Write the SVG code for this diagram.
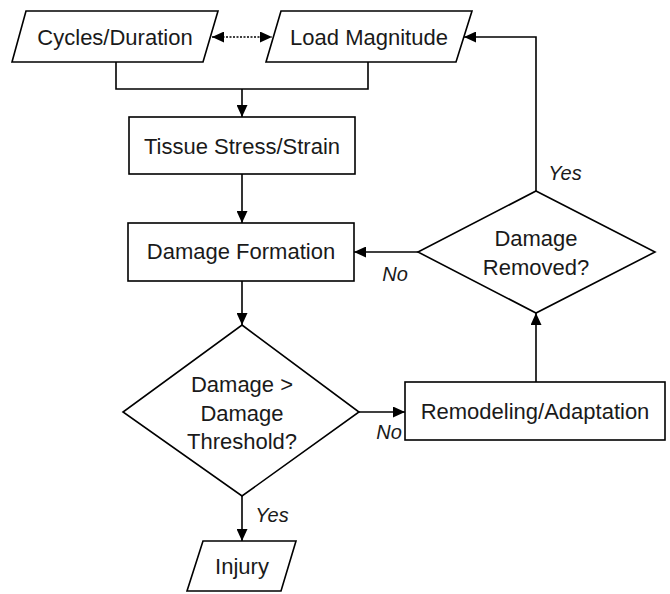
<svg xmlns="http://www.w3.org/2000/svg" width="670" height="594" viewBox="0 0 670 594">
  <defs>
    <marker id="arrow" viewBox="0 0 12 11" refX="12" refY="5.5" markerWidth="12" markerHeight="11" markerUnits="userSpaceOnUse" orient="auto-start-reverse">
      <path d="M0,0 L12,5.5 L0,11 Z" fill="#000"/>
    </marker>
  </defs>
  <style>
    .shape { fill: #fff; stroke: #000; stroke-width: 1.6; }
    .label { font-family: "Liberation Sans", Arial, sans-serif; font-size: 22px; fill: #1a1a1a; text-anchor: middle; dominant-baseline: central; }
    .answer { font-family: "Liberation Sans", Arial, sans-serif; font-size: 20px; font-style: italic; fill: #1a1a1a; text-anchor: middle; dominant-baseline: central; }
    .link { fill: none; stroke: #000; stroke-width: 1.6; }
    .dotted { stroke-dasharray: 2 1.5; stroke-width: 1.4; }
  </style>
  <rect width="670" height="594" fill="#fff"/>

  <!-- connectors -->
  <g id="connectors">
    <path class="link dotted" d="M212,37 H272" marker-start="url(#arrow)" marker-end="url(#arrow)"/>
    <path class="link" d="M116,62 V89 H368 V62"/>
    <path class="link" d="M242,89 V117" marker-end="url(#arrow)"/>
    <path class="link" d="M242,174 V223" marker-end="url(#arrow)"/>
    <path class="link" d="M242,281 V325" marker-end="url(#arrow)"/>
    <path class="link" d="M359,412 H405" marker-end="url(#arrow)"/>
    <path class="link" d="M536,382 V313" marker-end="url(#arrow)"/>
    <path class="link" d="M418,252 H354" marker-end="url(#arrow)"/>
    <path class="link" d="M536,191 V37 H464" marker-end="url(#arrow)"/>
    <path class="link" d="M242,496 V541" marker-end="url(#arrow)"/>
    <text class="answer" x="565" y="173">Yes</text>
    <text class="answer" x="395" y="274">No</text>
    <text class="answer" x="389" y="432">No</text>
    <text class="answer" x="272" y="515">Yes</text>
  </g>

  <g id="cycles">
    <polygon class="shape" points="26,11 218,11 203,62 12,62"/>
    <text class="label" x="115" y="37">Cycles/Duration</text>
  </g>

  <g id="load">
    <polygon class="shape" points="281,11 472,11 456,62 266,62"/>
    <text class="label" x="369" y="37">Load Magnitude</text>
  </g>

  <g id="stress">
    <rect class="shape" x="129" y="117" width="226" height="57"/>
    <text class="label" x="242" y="146">Tissue Stress/Strain</text>
  </g>

  <g id="damage">
    <rect class="shape" x="128" y="223" width="226" height="58"/>
    <text class="label" x="241" y="251">Damage Formation</text>
  </g>

  <g id="removed">
    <polygon class="shape" points="536,191 655,252 536,313 418,252"/>
    <text class="label" x="536" y="238">Damage</text>
    <text class="label" x="536" y="267">Removed?</text>
  </g>

  <g id="threshold">
    <polygon class="shape" points="242,325 359,412 242,496 123,412"/>
    <text class="label" x="242" y="384">Damage &gt;</text>
    <text class="label" x="242" y="413">Damage</text>
    <text class="label" x="242" y="441">Threshold?</text>
  </g>

  <g id="remodeling">
    <rect class="shape" x="405" y="382" width="260" height="58"/>
    <text class="label" x="535" y="411">Remodeling/Adaptation</text>
  </g>

  <g id="injury">
    <polygon class="shape" points="203,541 296,541 281,591 187,591"/>
    <text class="label" x="242" y="566">Injury</text>
  </g>
</svg>
